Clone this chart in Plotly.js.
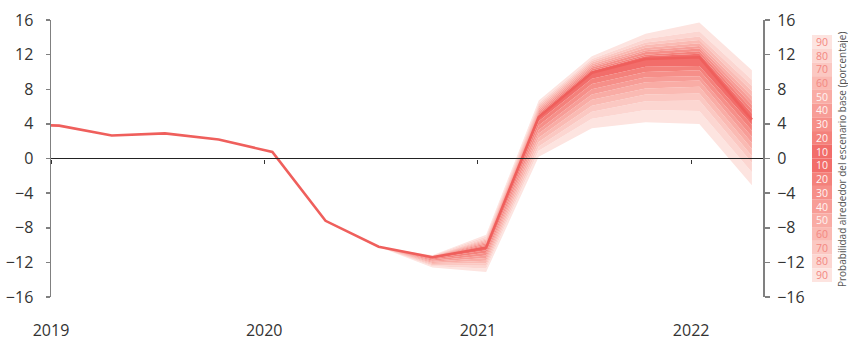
<!DOCTYPE html>
<html>
<head>
<meta charset="utf-8">
<script src="https://cdn.plot.ly/plotly-3.0.1.min.js"></script>
<style>html,body{margin:0;padding:0;background:#fff;}#chart{width:848px;height:343px;}</style>
</head>
<body>
<div id="chart"></div>
<script>
// ---- data ----
const lineDates = ['2018-10-15','2019-01-15','2019-04-15','2019-07-15','2019-10-15','2020-01-15','2020-04-15','2020-07-15','2020-10-15','2021-01-15','2021-04-15','2021-07-15','2021-10-15','2022-01-15','2022-04-15'];
const lineValues = [3.95, 3.8, 2.65, 2.9, 2.2, 0.75, -7.2, -10.2, -11.4, -10.3, 4.8, 9.9, 11.5, 11.7, 4.5];

const fanDates = ['2020-07-15','2020-10-15','2021-01-15','2021-04-15','2021-07-15','2021-10-15','2022-01-15','2022-04-15'];
const fanCenter = [-10.2, -11.4, -10.3, 4.8, 9.9, 11.5, 11.7, 4.5];

const up10 = [-10.2,-11.37,-10.1,5.0,10.1,11.8,12.1,5.2];
const up20 = [-10.2,-11.35,-9.95,5.2,10.3,12.0,12.4,5.7];
const up30 = [-10.2,-11.33,-9.8,5.4,10.5,12.3,12.7,6.2];
const up40 = [-10.2,-11.31,-9.65,5.6,10.7,12.5,13.0,6.7];
const up50 = [-10.2,-11.29,-9.5,5.8,10.9,12.8,13.3,7.2];
const up60 = [-10.2,-11.27,-9.35,6.0,11.1,13.1,13.7,7.8];
const up70 = [-10.2,-11.25,-9.2,6.2,11.3,13.4,14.1,8.4];
const up80 = [-10.2,-11.22,-9.0,6.4,11.5,13.8,14.7,9.1];
const up90 = [-10.2,-11.18,-8.8,6.7,11.8,14.4,15.7,10.2];

const lo10 = [-10.2,-11.55,-10.6,4.3,9.2,10.6,10.7,3.9];
const lo20 = [-10.2,-11.68,-10.9,3.8,8.6,10.0,10.2,3.2];
const lo30 = [-10.2,-11.81,-11.2,3.3,8.0,9.4,9.5,2.5];
const lo40 = [-10.2,-11.94,-11.5,2.9,7.4,8.8,9.0,1.8];
const lo50 = [-10.2,-12.07,-11.8,2.4,6.8,8.1,8.3,1.1];
const lo60 = [-10.2,-12.2,-12.1,1.9,6.1,7.4,7.5,0.3];
const lo70 = [-10.2,-12.33,-12.4,1.4,5.4,6.6,6.7,-0.5];
const lo80 = [-10.2,-12.46,-12.7,0.9,4.6,5.6,5.5,-1.6];
const lo90 = [-10.2,-12.6,-13.1,0.2,3.5,4.2,4.0,-3.1];

const yearTicks = ['2019-01-01','2020-01-01','2021-01-01','2022-01-01'];
const yearLabels = ['2019','2020','2021','2022'];
const yTicks = [-16,-12,-8,-4,0,4,8,12,16];
const legendLabels = ['90','80','70','60','50','40','30','20','10','10','20','30','40','50','60','70','80','90'];
const legendTitle = 'Probabilidad alrededor del escenario base (porcentaje)';

// ---- styles ----
const bandColors = {
  '10':'#f26d6a','20':'#f4817b','30':'#f68f89','40':'#f79d97','50':'#f9aca5',
  '60':'#fabab3','70':'#fbc8c2','80':'#fcd6d1','90':'#fde4e0'
};
const lightText = '#fff3f1';
const salmonText = '#f38781';
const lineColor = '#ef5f5c';

const uppers = [up10,up20,up30,up40,up50,up60,up70,up80,up90];
const lowers = [lo10,lo20,lo30,lo40,lo50,lo60,lo70,lo80,lo90];
const levelNames = ['10','20','30','40','50','60','70','80','90'];

const traces = [];
function band(inner, outer, color) {
  const xs = fanDates.concat(fanDates.slice().reverse());
  const ys = inner.concat(outer.slice().reverse());
  traces.push({x: xs, y: ys, type:'scatter', mode:'lines', fill:'toself',
    fillcolor: color, line:{width:0, color: color}, hoverinfo:'skip', showlegend:false});
}
for (let k = 8; k >= 0; k--) {
  const innerU = k === 0 ? fanCenter : uppers[k-1];
  const innerL = k === 0 ? fanCenter : lowers[k-1];
  band(innerU, uppers[k], bandColors[levelNames[k]]);
  band(innerL, lowers[k], bandColors[levelNames[k]]);
}
traces.push({x: lineDates, y: lineValues, type:'scatter', mode:'lines',
  line:{color: lineColor, width: 2.6}, hoverinfo:'skip', showlegend:false});
// helper traces so the extra axes are drawn
traces.push({x: yearTicks, y: [0,0,0,0], xaxis:'x2', yaxis:'y', type:'scatter', mode:'lines', line:{width:0}, opacity:0, hoverinfo:'skip', showlegend:false});
traces.push({x: yearTicks, y: [0,0,0,0], xaxis:'x', yaxis:'y2', type:'scatter', mode:'lines', line:{width:0}, opacity:0, hoverinfo:'skip', showlegend:false});

// pixel -> paper helpers (plot area: x 51..763, y 20..297)
const L = 51, R = 763, T = 20, B = 297;
const px = v => (v - L) / (R - L);
const py = v => (B - v) / (B - T);

const shapes = [{type:'line', xref:'paper', yref:'y', x0:0, x1:1, y0:0, y1:0,
  line:{color:'#222', width:1.2}, layer:'above'}];
const annotations = [];
const boxTop = 35, boxH = 247/18, boxX0 = 812, boxX1 = 832;
legendLabels.forEach((lab, i) => {
  const y0 = boxTop + i*boxH, y1 = y0 + boxH;
  shapes.push({type:'rect', xref:'paper', yref:'paper', x0:px(boxX0), x1:px(boxX1),
    y0:py(y1), y1:py(y0), fillcolor: bandColors[lab], line:{width:0}, layer:'above'});
  const light = ['10','20','30','40','50'].indexOf(lab) >= 0;
  annotations.push({xref:'paper', yref:'paper', x:px((boxX0+boxX1)/2), y:py((y0+y1)/2),
    text: lab, showarrow:false, xanchor:'center', yanchor:'middle', borderpad:0,
    font:{size:10.5, color: light ? lightText : salmonText, family:'Open Sans'}});
});
annotations.push({xref:'paper', yref:'paper', x:px(842), y:py(159), text: legendTitle,
  textangle:-90, showarrow:false, xanchor:'center', yanchor:'middle',
  font:{size:10, color:'#555', family:'Open Sans'}});

const xrange = ['2019-01-01','2022-05-04'];
const layout = {
  width:848, height:343,
  margin:{l:L, r:848-R, t:T, b:343-B, pad:0},
  paper_bgcolor:'#fff', plot_bgcolor:'#fff',
  showlegend:false,
  font:{family:'Open Sans', color:'#333', size:16},
  xaxis:{type:'date', range: xrange, tickmode:'array', tickvals: yearTicks, ticktext: yearLabels,
    ticks:'', showline:false, showgrid:false, zeroline:false,
    tickfont:{size:16, color:'#333'}, ticklabelstandoff: 22},
  xaxis2:{type:'date', range: xrange, overlaying:'x', anchor:'free', position:0.5, side:'bottom',
    tickmode:'array', tickvals: yearTicks, ticks:'outside', ticklen:4, tickwidth:1, tickcolor:'#333',
    showticklabels:false, showline:false, showgrid:false, zeroline:false, layer:'above traces'},
  yaxis:{range:[-16,16], tickmode:'array', tickvals: yTicks, ticks:'outside', ticklen:4, tickwidth:1.5,
    tickcolor:'#808080', showline:true, linecolor:'#808080', linewidth:1.5,
    showgrid:false, zeroline:false, tickfont:{size:16, color:'#333'}, ticklabelstandoff: 9},
  yaxis2:{range:[-16,16], overlaying:'y', side:'right', anchor:'x', tickmode:'array', tickvals: yTicks,
    ticks:'outside', ticklen:5, tickwidth:1.5, tickcolor:'#808080', showline:true, linecolor:'#808080', linewidth:2,
    showgrid:false, zeroline:false, tickfont:{size:16, color:'#333'}, ticklabelstandoff: 4},
  shapes: shapes,
  annotations: annotations
};
Plotly.newPlot('chart', traces, layout, {staticPlot:true, displayModeBar:false});
</script>
</body>
</html>
